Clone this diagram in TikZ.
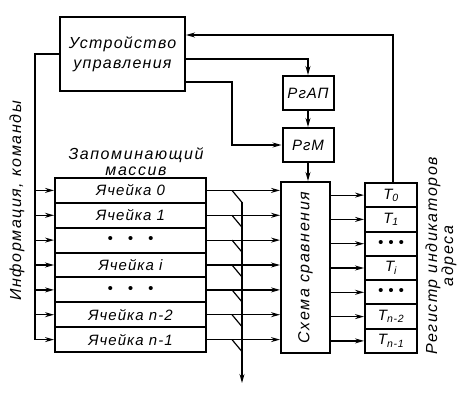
\documentclass[tikz,border=0pt]{standalone}
\usepackage{fontspec}
\setmainfont{Liberation Sans}
\usetikzlibrary{arrows.meta}

\begin{document}
\begin{tikzpicture}[x=1pt,y=-1pt,>={Stealth[length=9pt,width=5pt]},
  box/.style={draw,line width=2pt,inner sep=0pt,align=center,font=\itshape\fontsize{15}{19}\selectfont\addfontfeature{LetterSpace=7}},
  cell/.style={box,minimum width=151pt,minimum height=24.9pt},
  reg/.style={box,minimum width=52pt,minimum height=24.3pt},
  wire/.style={line width=1.2pt},
  lbl/.style={align=center,font=\itshape\fontsize{16}{16}\selectfont\addfontfeature{LetterSpace=10}}]

\useasboundingbox (0,0) rectangle (476,404);

\node[box,minimum width=125pt,minimum height=74pt,font=\itshape\fontsize{16}{20}\selectfont\addfontfeature{LetterSpace=8}] (cu) at (122.5,54) {Устройство\\управления};
\node[box,minimum width=51pt,minimum height=34pt] (rgap) at (308,93) {РгАП};
\node[box,minimum width=51pt,minimum height=34pt] (rgm) at (308,145) {РгМ};
\node[box,minimum width=49pt,minimum height=171pt] (cmp) at (305.5,267.5) {};
\node[lbl,rotate=90] (cmptext) at (cmp) {Схема сравнения};

\node[lbl] (memlbl) at (136,162) {Запоминающий\\массив};
\node[lbl,rotate=90] (inlbl) at (17,201) {Информация, команды};
\node[lbl,rotate=90] (reglbl) at (441,256) {Регистр индикаторов\\адреса};

% memory cells
\node[cell] (m1) at (130.5,190.4) {Ячейка 0};
\node[cell] (m2) at (130.5,215.3) {Ячейка 1};
\node[cell] (m3) at (130.5,240.1) {\textbullet\quad\textbullet\quad\textbullet};
\node[cell] (m4) at (130.5,265.0) {Ячейка i};
\node[cell] (m5) at (130.5,289.9) {\textbullet\quad\textbullet\quad\textbullet};
\node[cell] (m6) at (130.5,314.7) {Ячейка n-2};
\node[cell] (m7) at (130.5,339.6) {Ячейка n-1};

% register of address indicators
\node[reg] (r1) at (391,195.1) {T\textsubscript{0}};
\node[reg] (r2) at (391,219.4) {T\textsubscript{1}};
\node[reg] (r3) at (391,243.7) {\textbullet\,\,\textbullet\,\,\textbullet};
\node[reg] (r4) at (391,268.0) {T\textsubscript{i}};
\node[reg] (r5) at (391,292.3) {\textbullet\,\,\textbullet\,\,\textbullet};
\node[reg] (r6) at (391,316.6) {T\textsubscript{n-2}};
\node[reg] (r7) at (391,340.9) {T\textsubscript{n-1}};

\coordinate (busL) at (35,0);
\coordinate (fb) at (393,35);
\coordinate (cu2) at (185,59);
\coordinate (cu3) at (185,82);
\coordinate (tap) at (232,0);
\coordinate (busR) at (242,383);

\draw[wire,->] (r1.north -| fb) -- (fb) -- (fb -| cu.east);
\draw[wire,->] (cu2) -| (rgap.north);
\draw[wire,->] (cu3) -- ++(47,0) |- (rgm.west);
\draw[wire,->] (rgap) -- (rgm);
\draw[wire,->] (rgm.south) -- (rgm.south |- cmp.north);

\draw[wire] (cu.west) -| (busL |- m7.west);
\draw[wire,->] (busL |- m1.west) -- (m1.west);
\draw[wire,->] (busL |- m2.west) -- (m2.west);
\draw[wire,->] (busL |- m3.west) -- (m3.west);
\draw[wire,->] (busL |- m4.west) -- (m4.west);
\draw[wire,->] (busL |- m5.west) -- (m5.west);
\draw[wire,->] (busL |- m6.west) -- (m6.west);
\draw[wire,->] (busL |- m7.west) -- (m7.west);

\draw[wire,->] (m1.east) -- (m1.east -| cmp.west);
\draw[wire,->] (m2.east) -- (m2.east -| cmp.west);
\draw[wire,->] (m3.east) -- (m3.east -| cmp.west);
\draw[wire,->] (m4.east) -- (m4.east -| cmp.west);
\draw[wire,->] (m5.east) -- (m5.east -| cmp.west);
\draw[wire,->] (m6.east) -- (m6.east -| cmp.west);
\draw[wire,->] (m7.east) -- (m7.east -| cmp.west);

\draw[wire] (m1.east -| tap) -- ++(10,12);
\draw[wire] (m2.east -| tap) -- ++(10,12);
\draw[wire] (m3.east -| tap) -- ++(10,12);
\draw[wire] (m4.east -| tap) -- ++(10,12);
\draw[wire] (m5.east -| tap) -- ++(10,12);
\draw[wire] (m6.east -| tap) -- ++(10,12);
\draw[wire] (m7.east -| tap) -- ++(10,12);
\draw[wire,->] ([yshift=-12pt]m1.east -| busR) -- (busR);

\draw[wire,->] (r1.west -| cmp.east) -- (r1.west);
\draw[wire,->] (r2.west -| cmp.east) -- (r2.west);
\draw[wire,->] (r3.west -| cmp.east) -- (r3.west);
\draw[wire,->] (r4.west -| cmp.east) -- (r4.west);
\draw[wire,->] (r5.west -| cmp.east) -- (r5.west);
\draw[wire,->] (r6.west -| cmp.east) -- (r6.west);
\draw[wire,->] (r7.west -| cmp.east) -- (r7.west);

\end{tikzpicture}
\end{document}
